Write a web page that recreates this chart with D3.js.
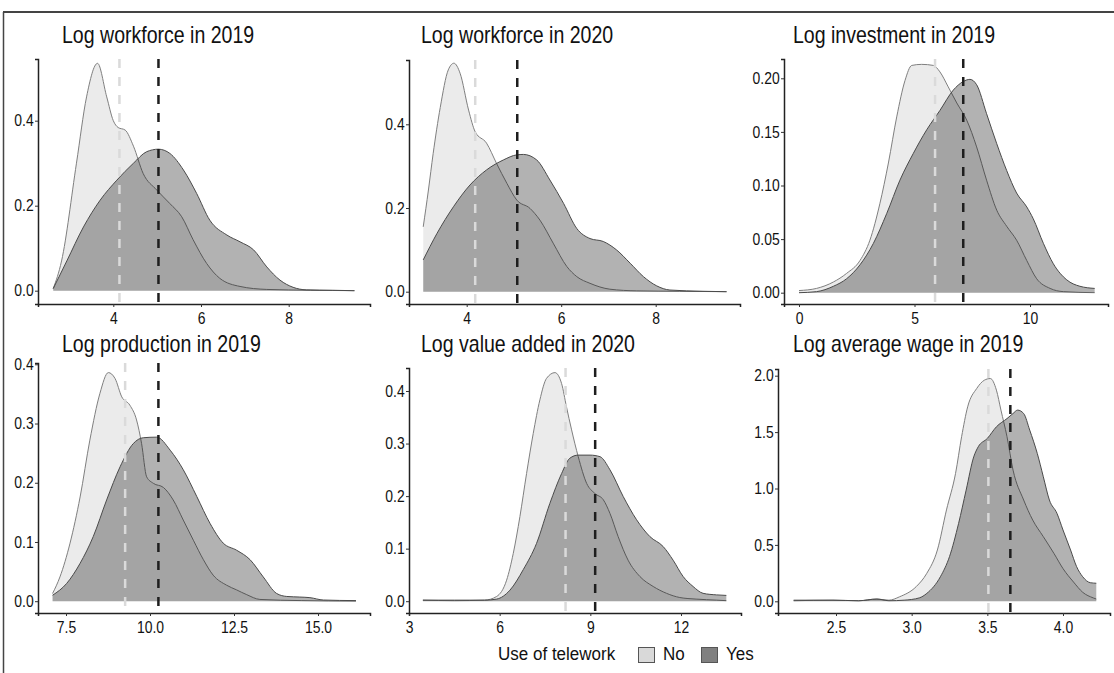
<!DOCTYPE html>
<html>
<head>
<meta charset="utf-8">
<script src="https://cdn.jsdelivr.net/npm/d3@7"></script>
<style>
  html, body { margin: 0; padding: 0; background: #fff; }
  svg { display: block; font-family: "Liberation Sans", Arial, sans-serif; }
</style>
</head>
<body>
<svg id="chart" width="1114" height="673"></svg>
<script>
// Panel titles
const titles = [
  "Log workforce in 2019", "Log workforce in 2020", "Log investment in 2019",
  "Log production in 2019", "Log value added in 2020", "Log average wage in 2019"
];

// Density estimates [x, density] for firms without / with telework
const wf19No = [[2.63,0.005],[2.82,0.07],[3.16,0.30],[3.39,0.456],[3.64,0.535],[3.85,0.456],[4.0,0.40],[4.11,0.384],[4.27,0.378],[4.46,0.34],[4.68,0.276],[4.99,0.237],[5.29,0.205],[5.56,0.174],[5.82,0.12],[6.13,0.064],[6.43,0.029],[6.89,0.01],[7.5,0.003],[8.5,0.001],[9.5,0.0]];
const wf19Yes = [[2.63,0.005],[2.94,0.07],[3.32,0.15],[3.70,0.213],[4.08,0.26],[4.46,0.30],[4.76,0.327],[5.03,0.333],[5.29,0.323],[5.60,0.284],[5.90,0.229],[6.20,0.166],[6.59,0.131],[6.89,0.115],[7.20,0.096],[7.50,0.056],[7.80,0.025],[8.10,0.008],[8.40,0.002],[9.0,0.001],[9.5,0.0]];

const wf20No = [[3.08,0.155],[3.19,0.243],[3.29,0.33],[3.44,0.44],[3.61,0.53],[3.73,0.546],[3.86,0.522],[4.04,0.434],[4.18,0.382],[4.42,0.355],[4.63,0.307],[4.85,0.259],[5.06,0.219],[5.34,0.199],[5.55,0.171],[5.83,0.116],[6.12,0.06],[6.33,0.036],[6.61,0.02],[7.03,0.006],[7.6,0.002],[8.5,0.001],[9.5,0]];
const wf20Yes = [[3.08,0.076],[3.37,0.139],[3.72,0.203],[4.07,0.255],[4.42,0.291],[4.78,0.315],[5.06,0.327],[5.2,0.328],[5.48,0.315],[5.76,0.267],[6.05,0.211],[6.33,0.151],[6.61,0.127],[6.89,0.12],[7.17,0.1],[7.46,0.068],[7.74,0.036],[8.02,0.014],[8.3,0.004],[9.0,0.001],[9.5,0]];

const inv19No = [[0,0.002],[0.76,0.004],[1.49,0.01],[2.06,0.018],[2.64,0.03],[3.07,0.049],[3.5,0.083],[3.87,0.121],[4.23,0.164],[4.59,0.198],[4.88,0.212],[5.31,0.213],[5.82,0.212],[6.1,0.206],[6.46,0.192],[6.83,0.177],[7.26,0.161],[7.69,0.136],[8.12,0.105],[8.56,0.077],[8.99,0.062],[9.42,0.049],[9.86,0.03],[10.29,0.013],[10.87,0.004],[11.44,0.001],[12.8,0]];
const inv19Yes = [[0,0],[0.76,0.001],[1.49,0.006],[2.06,0.013],[2.64,0.026],[3.22,0.046],[3.8,0.074],[4.37,0.105],[4.95,0.13],[5.53,0.152],[6.1,0.17],[6.68,0.189],[7.11,0.197],[7.4,0.199],[7.69,0.194],[8.12,0.167],[8.56,0.139],[8.99,0.114],[9.42,0.093],[9.86,0.08],[10.14,0.069],[10.58,0.046],[11.01,0.027],[11.59,0.012],[12.16,0.006],[12.8,0.004]];

const prod19No = [[7.1,0.013],[7.32,0.041],[7.62,0.098],[7.92,0.176],[8.21,0.272],[8.51,0.351],[8.76,0.386],[8.96,0.376],[9.16,0.345],[9.4,0.331],[9.6,0.306],[9.75,0.266],[9.9,0.21],[10.1,0.199],[10.4,0.192],[10.69,0.171],[10.99,0.137],[11.29,0.103],[11.59,0.07],[11.88,0.044],[12.28,0.027],[12.58,0.019],[12.88,0.011],[13.27,0.003],[14.5,0.001],[16.13,0]];
const prod19Yes = [[7.1,0.01],[7.52,0.03],[7.92,0.064],[8.31,0.109],[8.71,0.171],[9.11,0.227],[9.5,0.266],[9.8,0.276],[10.2,0.277],[10.6,0.255],[10.99,0.222],[11.39,0.177],[11.79,0.131],[12.18,0.098],[12.58,0.086],[12.98,0.07],[13.37,0.041],[13.77,0.013],[14.07,0.008],[14.46,0.007],[14.76,0.006],[15.16,0.002],[16.13,0.001]];

const va20No = [[3.46,0.002],[4.5,0.001],[5.5,0.002],[5.9,0.009],[6.23,0.04],[6.45,0.091],[6.67,0.161],[6.89,0.243],[7.11,0.319],[7.33,0.383],[7.55,0.424],[7.83,0.435],[8.05,0.414],[8.21,0.37],[8.38,0.326],[8.6,0.275],[8.88,0.224],[9.15,0.205],[9.43,0.193],[9.65,0.167],[9.92,0.123],[10.25,0.078],[10.64,0.047],[11.08,0.028],[11.52,0.015],[11.96,0.007],[12.5,0.004],[13.18,0.002],[13.5,0.001]];
const va20Yes = [[3.46,0.002],[4.5,0.002],[5.5,0.002],[5.9,0.004],[6.34,0.021],[6.78,0.06],[7.22,0.11],[7.66,0.186],[8.05,0.243],[8.32,0.272],[8.6,0.278],[8.99,0.278],[9.32,0.275],[9.65,0.25],[10.09,0.199],[10.53,0.155],[10.97,0.123],[11.41,0.104],[11.74,0.078],[12.07,0.047],[12.4,0.028],[12.73,0.015],[13.18,0.012],[13.5,0.011]];

const wage19No = [[2.22,0.005],[2.48,0.01],[2.65,0.005],[2.77,0.02],[2.85,0.01],[2.92,0.04],[3.03,0.13],[3.1,0.248],[3.17,0.455],[3.23,0.81],[3.29,1.134],[3.33,1.459],[3.37,1.724],[3.43,1.887],[3.48,1.96],[3.52,1.975],[3.56,1.872],[3.59,1.695],[3.63,1.459],[3.67,1.163],[3.74,0.898],[3.8,0.72],[3.87,0.573],[3.94,0.425],[4.0,0.29],[4.07,0.17],[4.13,0.08],[4.2,0.03],[4.22,0.02]];
const wage19Yes = [[2.22,0.01],[2.48,0.01],[2.65,0.005],[2.77,0.02],[2.85,0.005],[2.95,0.01],[3.05,0.03],[3.1,0.07],[3.19,0.218],[3.25,0.396],[3.31,0.69],[3.36,0.986],[3.41,1.28],[3.44,1.37],[3.5,1.444],[3.56,1.547],[3.63,1.62],[3.67,1.665],[3.7,1.695],[3.74,1.665],[3.78,1.518],[3.83,1.311],[3.87,1.104],[3.91,0.898],[3.96,0.78],[4.0,0.632],[4.05,0.455],[4.09,0.307],[4.13,0.218],[4.18,0.165],[4.22,0.16]];

// Group means (dashed reference lines)
const meanNo  = [4.14, 4.18, 5.89, 9.26, 8.18, 3.507];
const meanYes = [5.03, 5.07, 7.11, 10.25, 9.16, 3.652];

// Axis ticks per panel
const xTicks = [[4,6,8],[4,6,8],[0,5,10],[7.5,10,12.5,15],[3,6,9,12],[2.5,3,3.5,4]];
const yTicks = [[0,0.2,0.4],[0,0.2,0.4],[0,0.05,0.1,0.15,0.2],[0,0.1,0.2,0.3,0.4],[0,0.1,0.2,0.3,0.4],[0,0.5,1,1.5,2]];
const xFormats = ["d","d","d",".1f","d",".1f"];
const yFormats = [".1f",".1f",".2f",".1f",".1f",".1f"];

const legendLabels = ["No", "Yes"];
const legendTitle = "Use of telework";

const seriesNo  = [wf19No, wf20No, inv19No, prod19No, va20No, wage19No];
const seriesYes = [wf19Yes, wf20Yes, inv19Yes, prod19Yes, va20Yes, wage19Yes];

// Panel geometry: axis extents and two calibration points per axis
const layout = [
  {l:38,  r:370,  t:59,  b:304, xc:[[4,113.3],[8,288.7]], yc:[[0,290.7],[0.4,120.7]], tx:62,  ty:43},
  {l:409, r:740,  t:60,  b:304, xc:[[4,466.7],[8,655.7]], yc:[[0,291.7],[0.4,124.3]], tx:421, ty:43},
  {l:784, r:1108, t:59,  b:304, xc:[[0,799],[10,1030]],   yc:[[0,292.7],[0.2,78.3]],  tx:793, ty:43},
  {l:38,  r:370,  t:363, b:613, xc:[[7.5,66],[15,318]],   yc:[[0,601.2],[0.4,364.3]], tx:62,  ty:352},
  {l:409, r:741,  t:368, b:613, xc:[[3,409],[12,681]],    yc:[[0,601.2],[0.4,391]],   tx:421, ty:352},
  {l:778, r:1110, t:369, b:613, xc:[[2.5,836],[4,1063]],  yc:[[0,601.3],[2,375.7]],   tx:793, ty:352}
];

const SQUEEZE = 0.87;
const svg = d3.select("#chart");

// outer frame
svg.append("line").attr("x1", 3).attr("x2", 1114).attr("y1", 12).attr("y2", 12)
  .attr("stroke", "#444").attr("stroke-width", 2);
svg.append("line").attr("x1", 3.5).attr("x2", 3.5).attr("y1", 12).attr("y2", 673)
  .attr("stroke", "#444").attr("stroke-width", 1.5);

function calScale(cal, lo, hi) {
  const s = d3.scaleLinear().domain([cal[0][0], cal[1][0]]).range([cal[0][1], cal[1][1]]);
  return d3.scaleLinear().domain([s.invert(lo), s.invert(hi)]).range([lo, hi]);
}

layout.forEach((L, i) => {
  const g = svg.append("g");
  const x = calScale(L.xc, L.l, L.r);
  const y = calScale(L.yc, L.b, L.t);

  const area = d3.area().x(d => x(d[0])).y0(y(0)).y1(d => y(d[1])).curve(d3.curveMonotoneX);
  const line = d3.line().x(d => x(d[0])).y(d => y(d[1])).curve(d3.curveMonotoneX);

  g.append("path").attr("d", area(seriesNo[i])).attr("fill", "rgba(0,0,0,0.08)");
  g.append("path").attr("d", line(seriesNo[i])).attr("fill", "none")
    .attr("stroke", "#7f7f7f").attr("stroke-width", 1);
  g.append("path").attr("d", area(seriesYes[i])).attr("fill", "rgba(0,0,0,0.30)");
  g.append("path").attr("d", line(seriesYes[i])).attr("fill", "none")
    .attr("stroke", "#4a4a4a").attr("stroke-width", 1);

  // mean lines
  g.append("line").attr("x1", x(meanNo[i])).attr("x2", x(meanNo[i]))
    .attr("y1", L.t).attr("y2", L.b)
    .attr("stroke", "#dadada").attr("stroke-width", 2.5).attr("stroke-dasharray", "9,9");
  g.append("line").attr("x1", x(meanYes[i])).attr("x2", x(meanYes[i]))
    .attr("y1", L.t).attr("y2", L.b)
    .attr("stroke", "#1e1e1e").attr("stroke-width", 2.5).attr("stroke-dasharray", "9,9");

  // axes
  const xa = g.append("g").attr("transform", `translate(0,${L.b})`)
    .call(d3.axisBottom(x).tickValues(xTicks[i]).tickFormat(d3.format(xFormats[i]))
      .tickSizeOuter(0).tickSize(3).tickPadding(6));
  const ya = g.append("g").attr("transform", `translate(${L.l},0)`)
    .call(d3.axisLeft(y).tickValues(yTicks[i]).tickFormat(d3.format(yFormats[i]))
      .tickSizeOuter(0).tickSize(3).tickPadding(2));
  [xa, ya].forEach(a => {
    a.select(".domain").attr("stroke", "#222").attr("stroke-width", 1.5);
    a.selectAll(".tick line").attr("stroke", "#333");
    a.selectAll(".tick text").attr("fill", "#111").style("font-size", "16px")
      .attr("font-family", "Liberation Sans, Arial, sans-serif")
      .attr("transform", `scale(${SQUEEZE},1)`);
  });

  // title
  svg.append("text").attr("transform", `translate(${L.tx},${L.ty}) scale(0.85,1)`)
    .style("font-size", "23px").attr("fill", "#111").text(titles[i]);
});

// legend
const lg = svg.append("g");
lg.append("text").attr("transform", "translate(498,660) scale(0.92,1)")
  .style("font-size", "18.5px").attr("fill", "#111").text(legendTitle);
const keyX = [638, 701];
const keyFill = ["#d9d9d9", "#808080"];
legendLabels.forEach((lab, k) => {
  lg.append("rect").attr("x", keyX[k] + 0.5).attr("y", 647.5).attr("width", 16).attr("height", 15)
    .attr("fill", keyFill[k]).attr("stroke", "#555").attr("stroke-width", 1);
  lg.append("text").attr("transform", `translate(${keyX[k] + 25},660) scale(0.92,1)`)
    .style("font-size", "18.5px").attr("fill", "#111").text(lab);
});
</script>
</body>
</html>
